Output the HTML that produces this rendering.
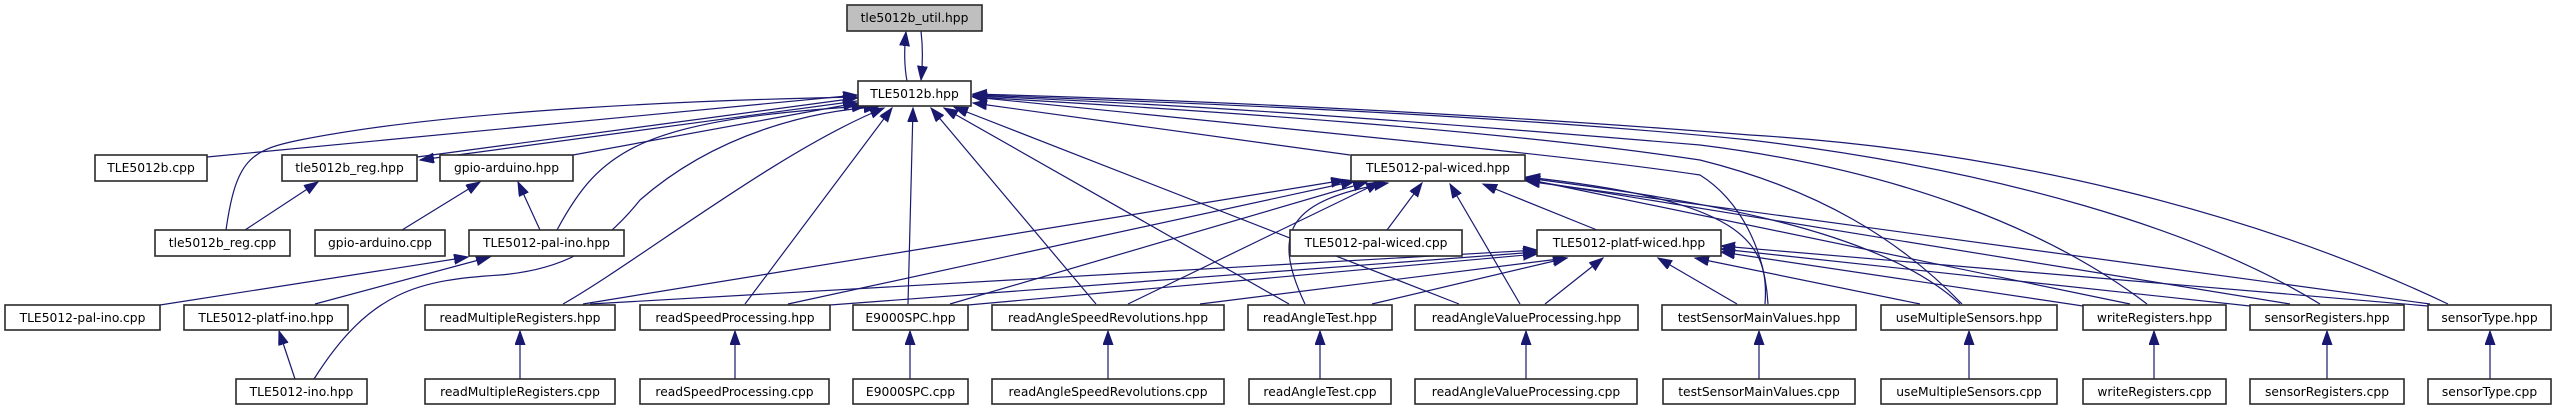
<!DOCTYPE html>
<html><head><meta charset="utf-8"><style>
html,body{margin:0;padding:0;background:#fff;}
svg{display:block;}
text{font-family:"DejaVu Sans","Liberation Sans",sans-serif;font-size:12.3px;fill:#000;text-anchor:middle;}
rect{fill:#fff;stroke:#2a2a2a;stroke-width:1.6;}
path{fill:none;stroke:#191970;stroke-width:1.2;}
</style></head><body>
<svg width="2553" height="411" viewBox="0 0 2553 411" xmlns="http://www.w3.org/2000/svg">
<defs>
<marker id="a" markerUnits="userSpaceOnUse" markerWidth="16" markerHeight="12" refX="14" refY="5" orient="auto">
<polygon points="0,0 14,5 0,10" fill="#191970" stroke="#191970"/>
</marker>
</defs>
<g marker-end="url(#a)">
<path d="M907,81 C904,65 904,50 906,32"/>
<path d="M921,31 C923,48 923,62 921,80"/>
<path d="M207,157 L857,95"/>
<path d="M417,157 L857,98"/>
<path d="M857,101 L420,160"/>
<path d="M573,155 L857,103"/>
<path d="M226,230 C236,160 250,150 300,140 C450,110 700,100 857,97"/>
<path d="M557,230 C600,150 640,120 866,106"/>
<path d="M314,379 C370,290 420,280 500,275 C560,270 600,250 640,200 C720,130 820,110 878,107"/>
<path d="M563,304 C640,260 780,150 884,108"/>
<path d="M745,304 L892,108"/>
<path d="M908,304 L913,108"/>
<path d="M1096,304 L931,108"/>
<path d="M1289,304 L944,108"/>
<path d="M1459,304 L954,107"/>
<path d="M1350,155 L973,103"/>
<path d="M1768,304 C1765,250 1740,200 1700,175 C1600,160 1500,150 973,97"/>
<path d="M1962,304 C1900,240 1820,190 1700,160 C1500,130 1200,110 973,97"/>
<path d="M2147,304 C2050,230 1900,170 1700,145 C1400,120 1200,105 973,96"/>
<path d="M2320,304 C2200,230 2000,170 1750,140 C1500,115 1200,103 973,95"/>
<path d="M2448,304 C2250,210 2000,150 1750,135 C1500,115 1200,100 973,94"/>
<path d="M583,304 L1345,180"/>
<path d="M788,304 L1355,181"/>
<path d="M950,304 L1367,182"/>
<path d="M1128,304 L1380,182"/>
<path d="M1305,304 C1270,230 1290,200 1388,183"/>
<path d="M1387,230 L1422,183"/>
<path d="M1520,304 L1450,184"/>
<path d="M1597,230 L1483,184"/>
<path d="M1765,304 C1770,240 1740,200 1526,177"/>
<path d="M1960,304 C1880,230 1700,200 1526,178"/>
<path d="M2130,304 L1526,179"/>
<path d="M2290,304 L1526,180"/>
<path d="M2430,304 L1526,181"/>
<path d="M590,304 L1537,250"/>
<path d="M830,305 L1537,252"/>
<path d="M968,305 L1537,254"/>
<path d="M1200,304 L1567,258"/>
<path d="M1372,304 L1567,258"/>
<path d="M1545,304 L1603,258"/>
<path d="M1737,304 L1658,258"/>
<path d="M1920,304 L1695,258"/>
<path d="M2083,306 L1721,252"/>
<path d="M2250,306 L1721,249"/>
<path d="M2428,306 L1721,246"/>
<path d="M245,230 L318,182"/>
<path d="M402,230 L480,182"/>
<path d="M540,230 L518,182"/>
<path d="M160,305 L468,257"/>
<path d="M315,304 L490,257"/>
<path d="M295,379 L279,331"/>
<path d="M520,379 L520,331"/>
<path d="M735,379 L735,331"/>
<path d="M910,379 L910,331"/>
<path d="M1108,379 L1108,331"/>
<path d="M1320,379 L1320,331"/>
<path d="M1526,379 L1526,331"/>
<path d="M1759,379 L1759,331"/>
<path d="M1969,379 L1969,331"/>
<path d="M2154,379 L2154,331"/>
<path d="M2327,379 L2327,331"/>
<path d="M2490,379 L2490,331"/>
</g>
<rect x="847" y="5" width="135" height="26" style="fill:#bfbfbf"/><text x="914.5" y="22">tle5012b_util.hpp</text>
<rect x="858" y="81" width="113" height="25"/><text x="914.5" y="98">TLE5012b.hpp</text>

<rect x="95" y="155" width="112" height="26"/><text x="151" y="172">TLE5012b.cpp</text>
<rect x="282" y="155" width="135" height="26"/><text x="349.5" y="172">tle5012b_reg.hpp</text>
<rect x="440" y="155" width="133" height="26"/><text x="506.5" y="172">gpio-arduino.hpp</text>
<rect x="1351" y="155" width="174" height="26"/><text x="1438" y="172">TLE5012-pal-wiced.hpp</text>

<rect x="155" y="230" width="135" height="26"/><text x="222.5" y="247">tle5012b_reg.cpp</text>
<rect x="315" y="230" width="130" height="26"/><text x="380" y="247">gpio-arduino.cpp</text>
<rect x="469" y="230" width="155" height="26"/><text x="546.5" y="247">TLE5012-pal-ino.hpp</text>
<rect x="1290" y="230" width="172" height="26"/><text x="1376" y="247">TLE5012-pal-wiced.cpp</text>
<rect x="1537" y="230" width="184" height="26"/><text x="1629" y="247">TLE5012-platf-wiced.hpp</text>

<rect x="5" y="305" width="155" height="25"/><text x="82.5" y="322">TLE5012-pal-ino.cpp</text>
<rect x="184" y="305" width="164" height="25"/><text x="266" y="322">TLE5012-platf-ino.hpp</text>
<rect x="425" y="305" width="190" height="25"/><text x="520" y="322">readMultipleRegisters.hpp</text>
<rect x="640" y="305" width="190" height="25"/><text x="735" y="322">readSpeedProcessing.hpp</text>
<rect x="853" y="305" width="115" height="25"/><text x="910.5" y="322">E9000SPC.hpp</text>
<rect x="992" y="305" width="232" height="25"/><text x="1108" y="322">readAngleSpeedRevolutions.hpp</text>
<rect x="1248" y="305" width="144" height="25"/><text x="1320" y="322">readAngleTest.hpp</text>
<rect x="1415" y="305" width="223" height="25"/><text x="1526.5" y="322">readAngleValueProcessing.hpp</text>
<rect x="1662" y="305" width="194" height="25"/><text x="1759" y="322">testSensorMainValues.hpp</text>
<rect x="1881" y="305" width="176" height="25"/><text x="1969" y="322">useMultipleSensors.hpp</text>
<rect x="2083" y="305" width="143" height="25"/><text x="2154.5" y="322">writeRegisters.hpp</text>
<rect x="2250" y="305" width="154" height="25"/><text x="2327" y="322">sensorRegisters.hpp</text>
<rect x="2428" y="305" width="123" height="25"/><text x="2489.5" y="322">sensorType.hpp</text>

<rect x="236" y="379" width="131" height="25"/><text x="301.5" y="396">TLE5012-ino.hpp</text>
<rect x="425" y="379" width="190" height="25"/><text x="520" y="396">readMultipleRegisters.cpp</text>
<rect x="640" y="379" width="189" height="25"/><text x="734.5" y="396">readSpeedProcessing.cpp</text>
<rect x="853" y="379" width="115" height="25"/><text x="910.5" y="396">E9000SPC.cpp</text>
<rect x="992" y="379" width="232" height="25"/><text x="1108" y="396">readAngleSpeedRevolutions.cpp</text>
<rect x="1249" y="379" width="142" height="25"/><text x="1320" y="396">readAngleTest.cpp</text>
<rect x="1415" y="379" width="222" height="25"/><text x="1526" y="396">readAngleValueProcessing.cpp</text>
<rect x="1663" y="379" width="192" height="25"/><text x="1759" y="396">testSensorMainValues.cpp</text>
<rect x="1881" y="379" width="176" height="25"/><text x="1969" y="396">useMultipleSensors.cpp</text>
<rect x="2083" y="379" width="143" height="25"/><text x="2154.5" y="396">writeRegisters.cpp</text>
<rect x="2250" y="379" width="154" height="25"/><text x="2327" y="396">sensorRegisters.cpp</text>
<rect x="2428" y="379" width="123" height="25"/><text x="2489.5" y="396">sensorType.cpp</text>
</svg>
</body></html>
